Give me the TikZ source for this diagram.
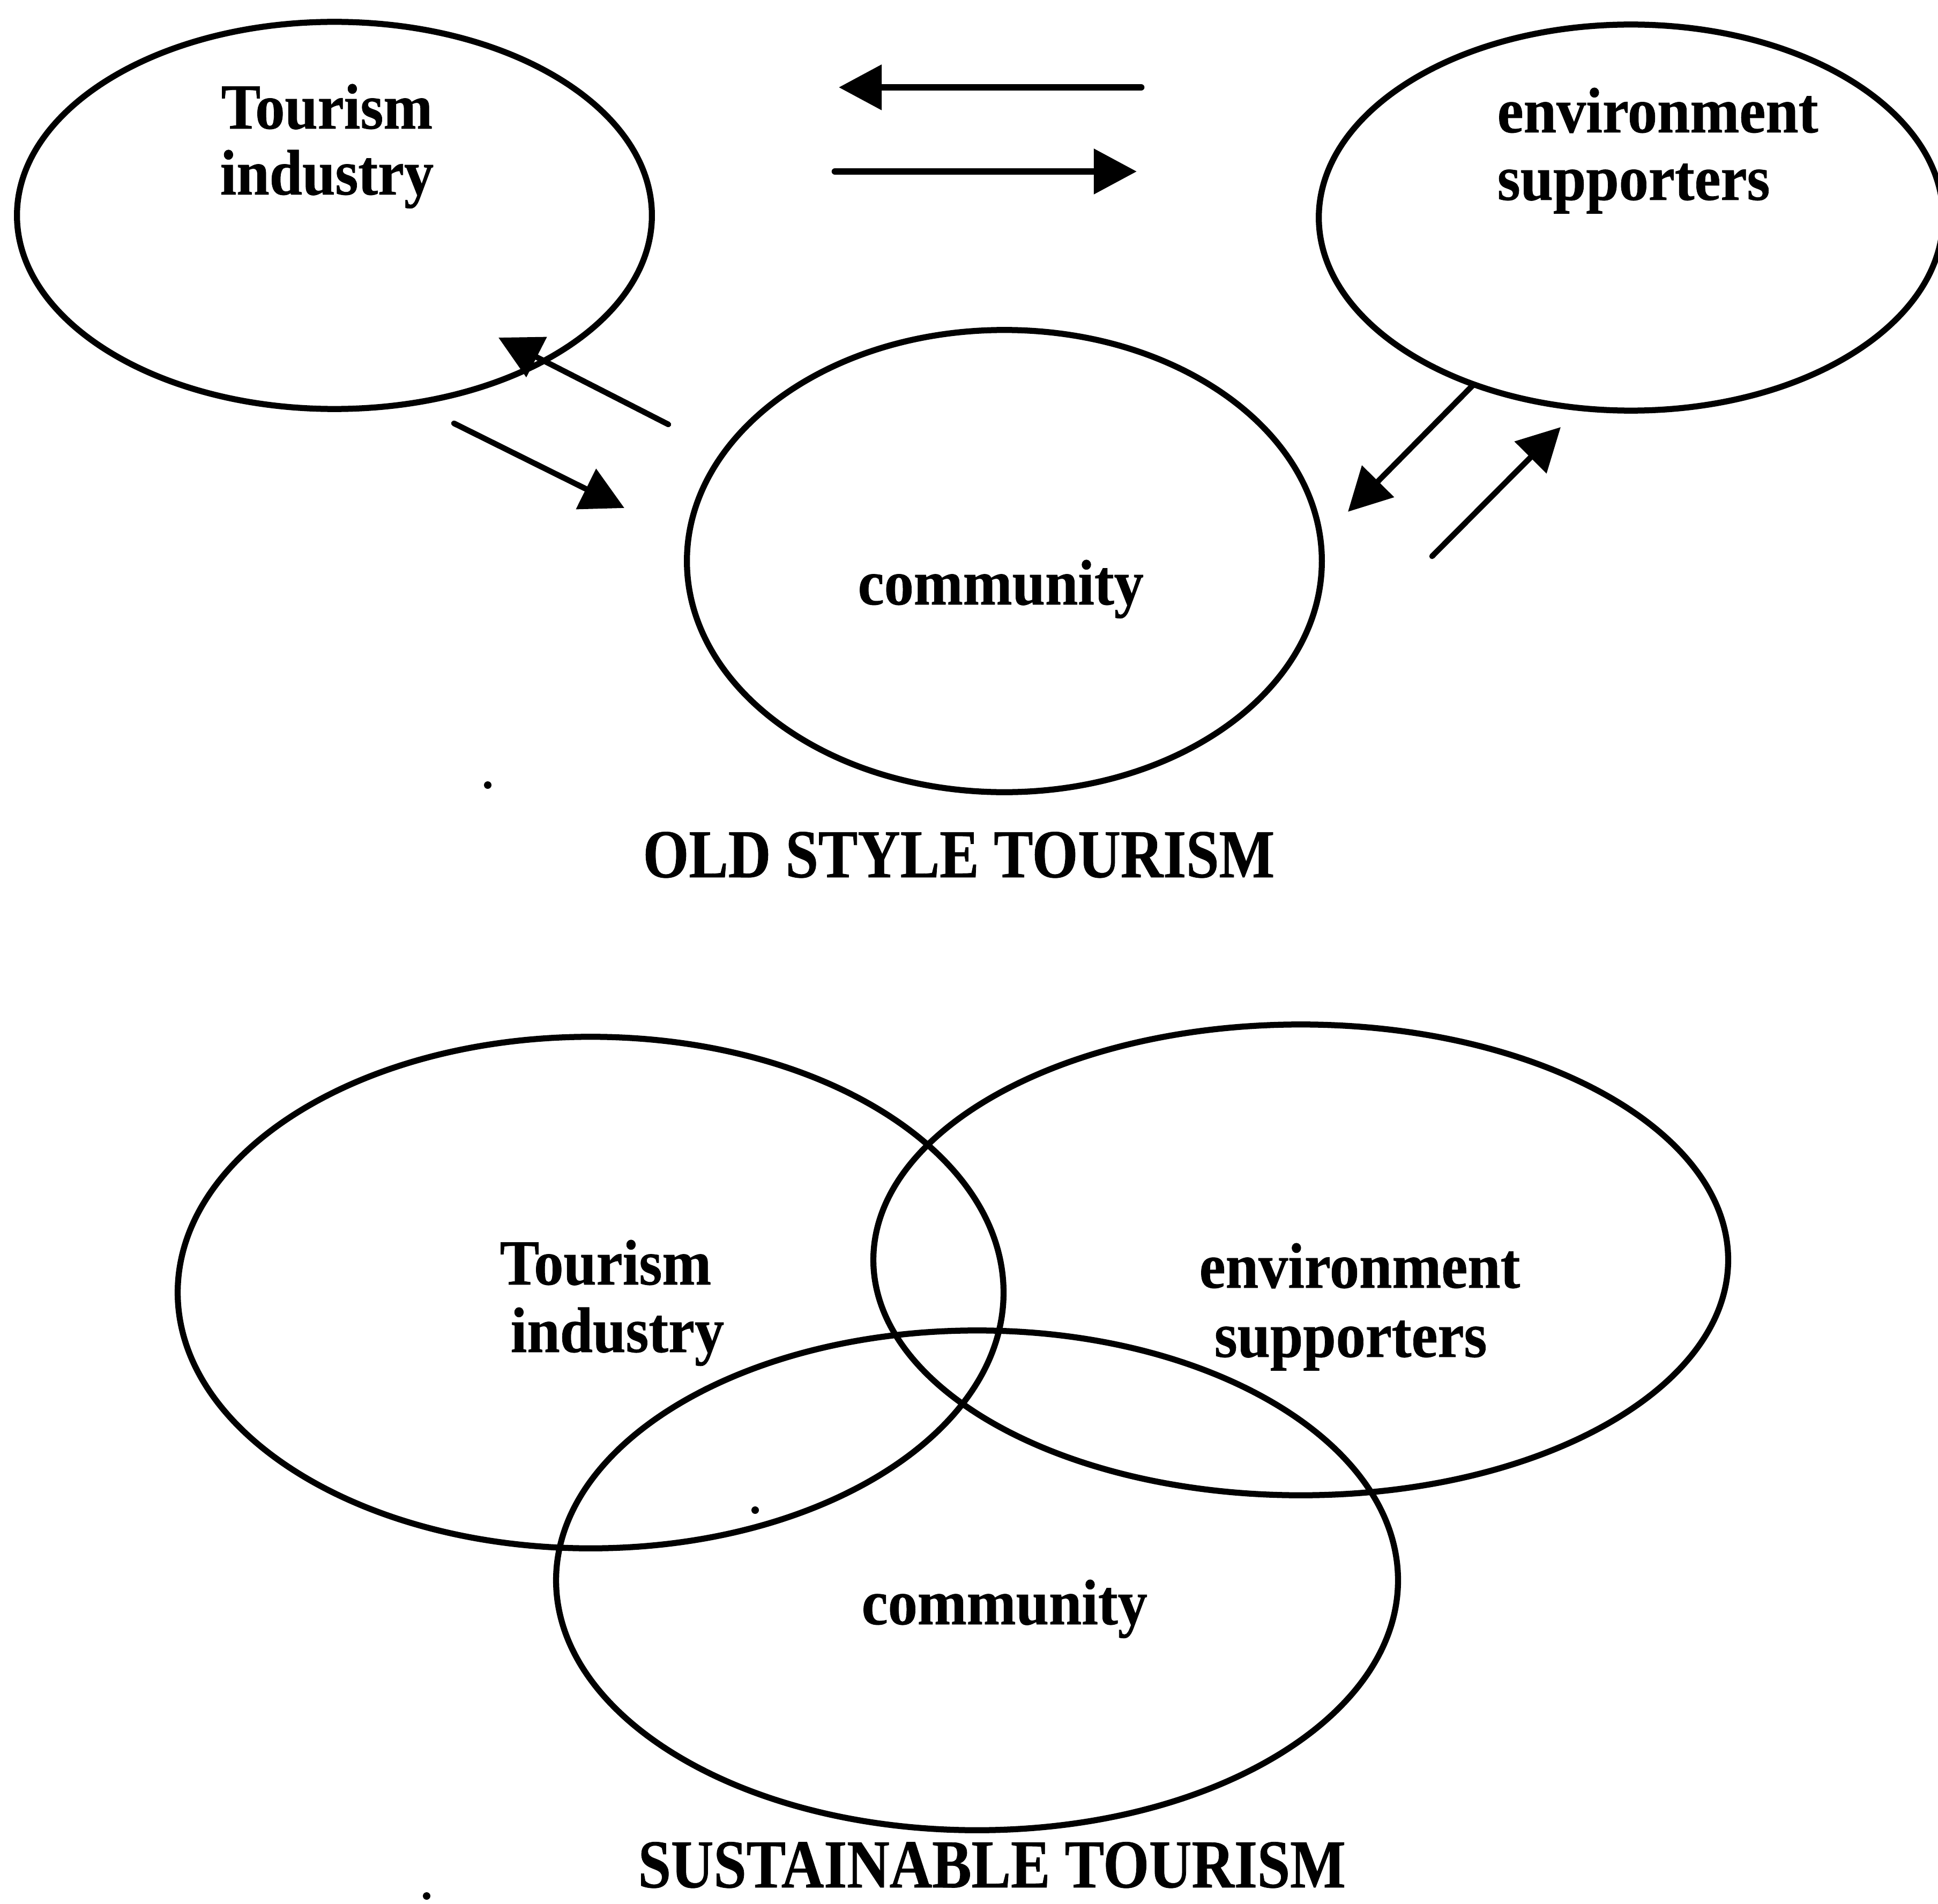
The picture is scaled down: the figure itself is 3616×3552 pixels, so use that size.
\documentclass[tikz,border=0pt]{standalone}
\usepackage{fontspec}
\setmainfont{Liberation Serif}
\newfontfamily\labelfont[FakeStretch=0.92, BoldFeatures={FakeBold=0.6}]{Liberation Serif}
\newfontfamily\headfont[FakeStretch=0.86, BoldFeatures={FakeBold=0.6}]{Liberation Serif}
\usetikzlibrary{arrows.meta,shapes.geometric}

\begin{document}
\begin{tikzpicture}[x=0.01cm,y=-0.01cm,
  oval/.style={draw, ellipse, line width=3.2pt, inner sep=0pt, outer sep=0pt},
  lbl/.style={anchor=base west, inner sep=0pt,
    font=\labelfont\bfseries\fontsize{34.1pt}{40pt}\selectfont},
  ttl/.style={anchor=base west, inner sep=0pt,
    font=\headfont\bfseries\fontsize{36.4pt}{42pt}\selectfont},
  flow/.style={-{Triangle[length=0.8cm,width=0.82cm]}, line width=3pt, line cap=round},
  hflow/.style={flow, line width=3.6pt},
  speck/.style={fill, circle, inner sep=0pt, minimum size=0.14cm}]

\useasboundingbox (0,0) rectangle (3616,3552);

% ---------- old style tourism ----------
\node[oval, minimum width=11.84cm, minimum height=7.22cm] (oti) at (624,402) {};
\node[oval, minimum width=11.64cm, minimum height=7.20cm] (oes) at (3043,406) {};
\node[oval, minimum width=11.84cm, minimum height=8.62cm] (oco) at (1874,1047) {};

\node[lbl] (otiA) at (412,240) {Tourism};
\node[lbl] (otiB) at (410,363) {industry};
\node[lbl] (oesA) at (2793,247) {environment};
\node[lbl] (oesB) at (2793,373) {supporters};
\node[lbl] (ocoA) at (1600,1128) {community};

% arrow end points
\coordinate (h1s) at (2129,163);
\coordinate (h1e) at (1565,163);
\coordinate (h2s) at (1558,320);
\coordinate (h2e) at (2121,320);
\coordinate (l1s) at (1247,792);
\coordinate (l1e) at (930,630);
\coordinate (l2s) at (847,790);
\coordinate (l2e) at (1165,948);
\coordinate (r1s) at (2747,720);
\coordinate (r1e) at (2515,955);
\coordinate (r2s) at (2672,1038);
\coordinate (r2e) at (2912,797);

\draw[hflow] (h1s) -- (h1e);
\draw[hflow] (h2s) -- (h2e);
\draw[flow] (l1s) -- (l1e);
\draw[flow] (l2s) -- (l2e);
\draw[flow] (r1s) -- (r1e);
\draw[flow] (r2s) -- (r2e);

\node[speck] (d1) at (910,1465) {};

\node[ttl] (t1) at (1199,1637) {OLD STYLE TOURISM};

% ---------- sustainable tourism ----------
\node[oval, minimum width=15.40cm, minimum height=9.54cm] (sti) at (1102,2412) {};
\node[oval, minimum width=15.94cm, minimum height=8.78cm] (ses) at (2427,2351) {};
\node[oval, minimum width=15.70cm, minimum height=9.32cm] (sco) at (1823,2949) {};

\node[lbl] (stiA) at (932,2397) {Tourism};
\node[lbl] (stiB) at (952,2523) {industry};
\node[lbl] (sesA) at (2237,2403) {environment};
\node[lbl] (sesB) at (2265,2532) {supporters};
\node[lbl] (scoA) at (1607,3031) {community};

\node[speck] (d2) at (1409,2818) {};
\node[speck] (d3) at (796,3538) {};

\node[ttl] (t2) at (1190,3522) {SUSTAINABLE TOURISM};

\end{tikzpicture}
\end{document}
